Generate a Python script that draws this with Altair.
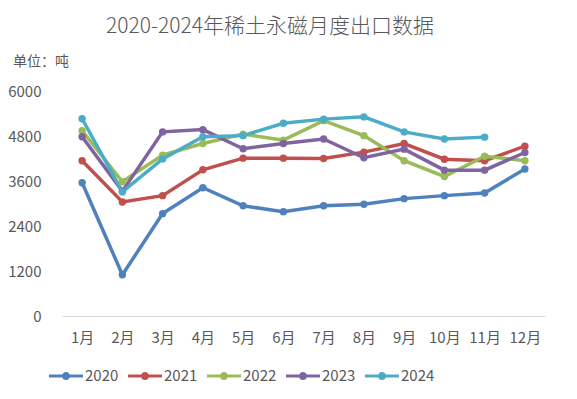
import altair as alt
import pandas as pd

months = ["1月", "2月", "3月", "4月", "5月", "6月", "7月", "8月", "9月", "10月", "11月", "12月"]
years = ["2020", "2021", "2022", "2023", "2024"]
v2020 = [3555, 1100, 2730, 3420, 2940, 2780, 2940, 2980, 3130, 3210, 3280, 3920]
v2021 = [4140, 3040, 3210, 3900, 4210, 4210, 4200, 4370, 4600, 4180, 4140, 4530]
v2022 = [4940, 3580, 4290, 4600, 4850, 4690, 5210, 4810, 4140, 3720, 4260, 4140]
v2023 = [4780, 3330, 4910, 4970, 4460, 4600, 4720, 4220, 4450, 3890, 3890, 4360]
v2024 = [5260, 3310, 4190, 4780, 4810, 5140, 5250, 5310, 4910, 4720, 4770]
colors = ["#4F81BD", "#C0504D", "#9BBB59", "#8064A2", "#4BACC6"]
y_ticks = [0, 1200, 2400, 3600, 4800, 6000]
title_text = "2020-2024年稀土永磁月度出口数据"
unit_text = "单位：吨"

rows = []
for yr, vals in zip(years, [v2020, v2021, v2022, v2023, v2024]):
    for m, v in zip(months, vals):
        rows.append({"month": m, "year": yr, "value": v})
df = pd.DataFrame(rows)

FONT = "Noto Sans CJK SC"
GRAY = "#595959"
LEGEND_SYMBOL = ("M-1,-0.09H1V0.09H-1Z "
                 "M0.24,0A0.24,0.24 0 1,1 -0.24,0A0.24,0.24 0 1,1 0.24,0Z")

base = alt.Chart(df).encode(
    x=alt.X("month:N", sort=months, scale=alt.Scale(padding=0.5),
            axis=alt.Axis(title=None, labelAngle=0, ticks=False, domainColor="#d9d9d9",
                          domainWidth=1, labelPadding=14, labelFontSize=15,
                          labelColor=GRAY, labelFont=FONT, grid=False)),
    y=alt.Y("value:Q", scale=alt.Scale(domain=[0, 6000], nice=False),
            axis=alt.Axis(title=None, values=y_ticks, format="d", ticks=False, domain=False,
                          grid=False, labelPadding=21, labelFontSize=15, labelColor=GRAY,
                          labelFont=FONT)),
    color=alt.Color("year:N", scale=alt.Scale(domain=years, range=colors),
                    legend=alt.Legend(title=None, orient="none", direction="horizontal",
                                      legendX=-13, legendY=268, padding=0,
                                      symbolType=LEGEND_SYMBOL, symbolSize=1156,
                                      symbolStrokeWidth=0, labelFontSize=15,
                                      labelColor=GRAY, labelFont=FONT, labelOffset=2,
                                      columnPadding=9)),
)

lines = base.mark_line(strokeWidth=3.5)
points = base.mark_circle(size=55, opacity=1)

title = alt.Chart(pd.DataFrame({"t": [title_text]})).mark_text(
    font=FONT, fontSize=21, fontWeight=300, color=GRAY, align="center", baseline="alphabetic"
).encode(text="t:N", x=alt.value(208), y=alt.value(-58))

unit = alt.Chart(pd.DataFrame({"t": [unit_text]})).mark_text(
    font=FONT, fontSize=14, color=GRAY, align="left", baseline="alphabetic"
).encode(text="t:N", x=alt.value(-49), y=alt.value(-25))

chart = alt.layer(lines, points, title, unit).properties(
    width=483, height=225,
    autosize=alt.AutoSizeParams(type="none"),
    padding={"left": 54, "top": 83, "right": 24, "bottom": 75},
    background="white",
).configure_view(stroke=None)

chart.save("out.html", embed_options={"renderer": "svg", "actions": False})
